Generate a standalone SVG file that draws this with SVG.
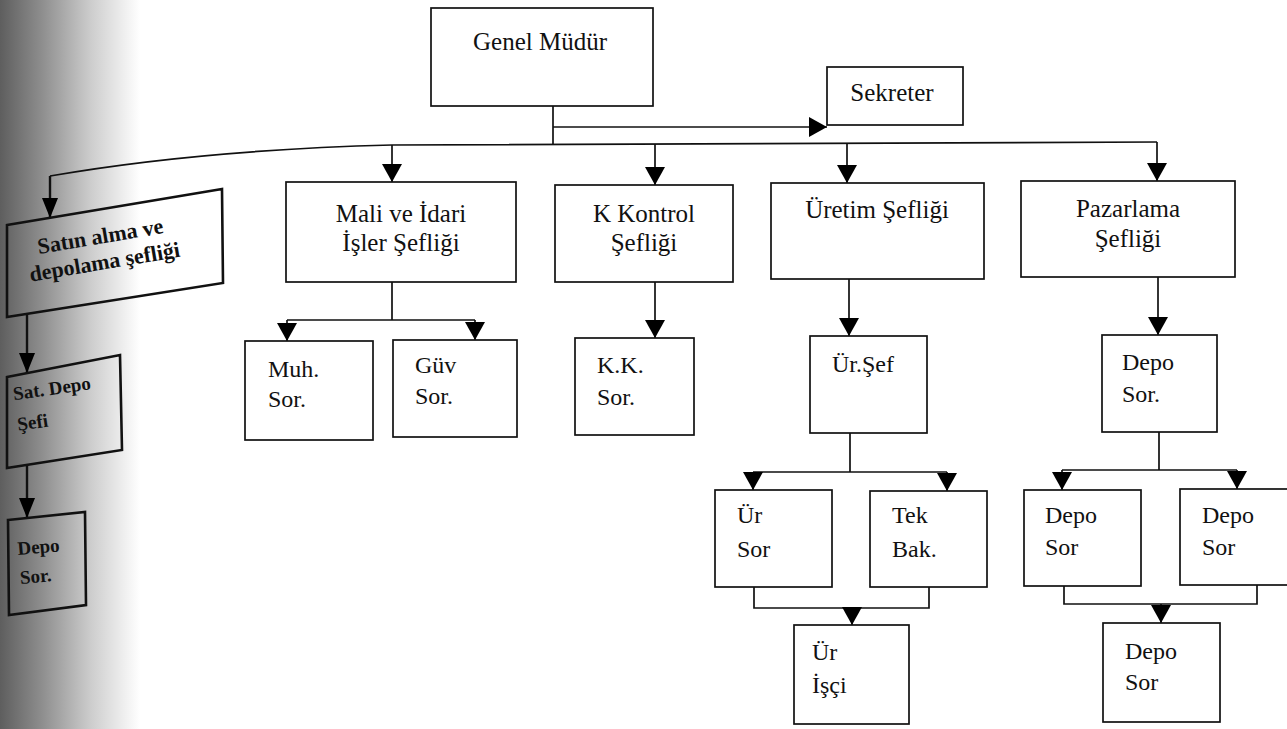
<svg xmlns="http://www.w3.org/2000/svg" width="1287" height="729" viewBox="0 0 1287 729">
<defs>
<linearGradient id="edge" x1="0" y1="0" x2="1" y2="0">
<stop offset="0" stop-color="#5e5e5e"/>
<stop offset="0.3" stop-color="#8e8e8e"/>
<stop offset="0.65" stop-color="#cdcdcd"/>
<stop offset="1" stop-color="#ffffff"/>
</linearGradient>
<marker id="ah" viewBox="0 0 18 20" markerWidth="18" markerHeight="20" refX="18" refY="10" orient="auto" markerUnits="userSpaceOnUse">
<path d="M0,0 L18,10 L0,20 Z" fill="#000"/>
</marker>
<marker id="ahs" viewBox="0 0 20 16" markerWidth="20" markerHeight="16" refX="20" refY="8" orient="auto" markerUnits="userSpaceOnUse">
<path d="M0,0 L20,8 L0,16 Z" fill="#000"/>
</marker>
<style>
.box{fill:none;stroke:#111;stroke-width:1.7}
.sbox{fill:none;stroke:#111;stroke-width:2.6}
text{font-family:'Liberation Serif','DejaVu Serif',serif}
.t{font-size:25px;fill:#111}
.m{text-anchor:middle}
.s{font-size:24px}
.b{font-weight:bold;fill:#111}
.c{fill:none;stroke:#111;stroke-width:1.7}
.a{marker-end:url(#ah)}
.as{fill:none;stroke:#111;stroke-width:2.4;marker-end:url(#ahs)}
</style>
</defs>
<rect x="0" y="0" width="1287" height="729" fill="#fff"/>
<rect x="0" y="0" width="140" height="729" fill="url(#edge)"/>

<g id="connectors">
<path class="c" d="M553,106 V144"/>
<path class="c a" d="M553,127 H827"/>
<path class="c" d="M50,176 Q200,150 392,145 L1157,142"/>
<path class="as" d="M50,176 V218"/>
<path class="c a" d="M392,145 V182"/>
<path class="c a" d="M655,144 V185"/>
<path class="c a" d="M847,143 V183"/>
<path class="c a" d="M1157,142 V181"/>
<path class="c" d="M392,282 V320 M287,320 H475"/>
<path class="c a" d="M287,320 V341"/>
<path class="c a" d="M475,320 V340"/>
<path class="c a" d="M655,282 V338"/>
<path class="c a" d="M849,279 V336"/>
<path class="c a" d="M1158,277 V335"/>
<path class="c" d="M850,433 V472 M753,472 H947"/>
<path class="c a" d="M753,472 V490"/>
<path class="c a" d="M947,472 V491"/>
<path class="c" d="M754,587 V608 H929 V587"/>
<path class="c a" d="M852,608 V625"/>
<path class="c" d="M1159,432 V470 M1062,470 H1237"/>
<path class="c a" d="M1062,470 V490"/>
<path class="c a" d="M1237,470 V489"/>
<path class="c" d="M1064,586 V604 H1257 V585"/>
<path class="c a" d="M1161,604 V623"/>
<path class="as" d="M27,314 V373"/>
<path class="as" d="M27,465 V518"/>
</g>

<g id="genel-mudur" font-family="Liberation Serif, serif">
<rect class="box" x="431" y="8" width="222" height="98"/>
<text class="t m" x="540" y="50">Genel Müdür</text>
</g>
<g id="sekreter" font-family="Liberation Serif, serif">
<rect class="box" x="827" y="67" width="136" height="58"/>
<text class="t m" x="892" y="101">Sekreter</text>
</g>
<g id="mali" font-family="Liberation Serif, serif">
<rect class="box" x="286" y="182" width="230" height="100"/>
<text class="t m" x="401" y="222">Mali ve İdari</text>
<text class="t m" x="401" y="251">İşler Şefliği</text>
</g>
<g id="kkontrol" font-family="Liberation Serif, serif">
<rect class="box" x="555" y="185" width="178" height="97"/>
<text class="t m" x="644" y="222">K Kontrol</text>
<text class="t m" x="644" y="251">Şefliği</text>
</g>
<g id="uretim" font-family="Liberation Serif, serif">
<rect class="box" x="771" y="183" width="213" height="96"/>
<text class="t m" x="877" y="218">Üretim Şefliği</text>
</g>
<g id="pazarlama" font-family="Liberation Serif, serif">
<rect class="box" x="1021" y="181" width="214" height="96"/>
<text class="t m" x="1128" y="217">Pazarlama</text>
<text class="t m" x="1128" y="247">Şefliği</text>
</g>
<g id="muh-sor">
<rect class="box" x="245" y="341" width="128" height="99"/>
<text class="t s" x="268" y="377">Muh.</text>
<text class="t s" x="268" y="407">Sor.</text>
</g>
<g id="guv-sor">
<rect class="box" x="393" y="340" width="124" height="97"/>
<text class="t s" x="415" y="373">Güv</text>
<text class="t s" x="415" y="404">Sor.</text>
</g>
<g id="kk-sor">
<rect class="box" x="575" y="338" width="119" height="97"/>
<text class="t s" x="597" y="373">K.K.</text>
<text class="t s" x="597" y="405">Sor.</text>
</g>
<g id="ur-sef">
<rect class="box" x="810" y="336" width="117" height="97"/>
<text class="t s" x="832" y="372">Ür.Şef</text>
</g>
<g id="depo-sor-p">
<rect class="box" x="1102" y="335" width="115" height="97"/>
<text class="t s" x="1122" y="370">Depo</text>
<text class="t s" x="1122" y="402">Sor.</text>
</g>
<g id="ur-sor">
<rect class="box" x="715" y="490" width="117" height="97"/>
<text class="t s" x="737" y="523">Ür</text>
<text class="t s" x="737" y="557">Sor</text>
</g>
<g id="tek-bak">
<rect class="box" x="870" y="491" width="117" height="96"/>
<text class="t s" x="892" y="523">Tek</text>
<text class="t s" x="892" y="557">Bak.</text>
</g>
<g id="ur-isci">
<rect class="box" x="794" y="625" width="115" height="99"/>
<text class="t s" x="812" y="660">Ür</text>
<text class="t s" x="812" y="693">İşçi</text>
</g>
<g id="depo-sor-l">
<rect class="box" x="1024" y="490" width="117" height="96"/>
<text class="t s" x="1045" y="523">Depo</text>
<text class="t s" x="1045" y="555">Sor</text>
</g>
<g id="depo-sor-r">
<rect class="box" x="1180" y="489" width="117" height="96"/>
<text class="t s" x="1202" y="523">Depo</text>
<text class="t s" x="1202" y="555">Sor</text>
</g>
<g id="depo-sor-b">
<rect class="box" x="1103" y="623" width="117" height="99"/>
<text class="t s" x="1125" y="659">Depo</text>
<text class="t s" x="1125" y="690">Sor</text>
</g>

<g id="satin-alma">
<path class="sbox" d="M7,225 L222,189 L223,283 L7,317 Z"/>
<g transform="rotate(-9.5 105 252)">
<text class="b" x="103" y="243" font-size="22" text-anchor="middle">Satın alma ve</text>
<text class="b" x="103" y="269" font-size="22" text-anchor="middle">depolama şefliği</text>
</g>
</g>
<g id="sat-depo-sefi">
<path class="sbox" d="M7,377 L120,355 L122,450 L7,468 Z"/>
<g transform="rotate(-8 15 400)">
<text class="b" x="14" y="400" font-size="19">Sat. Depo</text>
<text class="b" x="14" y="431" font-size="19">Şefi</text>
</g>
</g>
<g id="depo-sor-left">
<path class="sbox" d="M8,520 L85,512 L86,605 L9,615 Z"/>
<g transform="rotate(-5 18 555)">
<text class="b" x="18" y="555" font-size="19">Depo</text>
<text class="b" x="18" y="584" font-size="19">Sor.</text>
</g>
</g>
</svg>
